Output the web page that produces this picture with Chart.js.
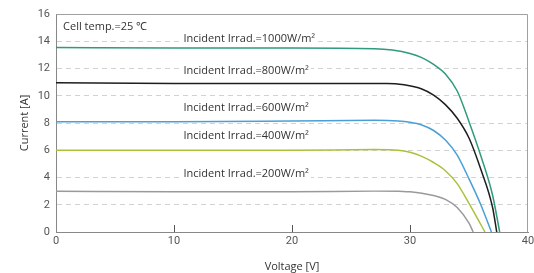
<!DOCTYPE html>
<html lang="en">

<head>
    <meta charset="UTF-8">
    <title>I-V Curves</title>
    <script src="https://cdn.jsdelivr.net/npm/chart.js"></script>
    <style>
        html, body { margin: 0; padding: 0; background: #fff; }
        canvas { display: block; }
    </style>
</head>

<body>
    <canvas id="iv-chart" width="534" height="273"></canvas>

    <script>
        // tick labels
        const voltageTicks = [0, 10, 20, 30, 40];
        const currentTicks = [0, 2, 4, 6, 8, 10, 12, 14, 16];

        // one curve per irradiance level: voltage [V] and current [A]
        const irradLabels = ['1000', '800', '600', '400', '200'];

        const v1000 = [0, 10, 20, 27, 28.5, 30, 31, 32, 33, 34, 35, 36, 37, 37.6];
        const i1000 = [13.55, 13.5, 13.5, 13.45, 13.35, 13.1, 12.8, 12.3, 11.6, 10.35, 8.1, 5.6, 2.7, 0];

        const v800 = [0, 10, 20, 28, 29.5, 31, 32, 33, 34, 35, 36, 37, 37.35];
        const i800 = [10.95, 10.9, 10.9, 10.9, 10.8, 10.5, 10.05, 9.35, 8.35, 6.9, 4.6, 1.8, 0];

        const v600 = [0, 10, 20, 27, 29, 30, 31, 32, 33, 34, 35, 36, 36.9];
        const i600 = [8.1, 8.1, 8.15, 8.2, 8.15, 8.05, 7.85, 7.45, 6.75, 5.65, 3.9, 2.0, 0];

        const v400 = [0, 10, 20, 27, 29, 30, 31, 32, 33, 34, 35, 36, 36.35];
        const i400 = [6.0, 6.0, 6.0, 6.05, 6.0, 5.85, 5.55, 5.1, 4.5, 3.55, 2.1, 0.55, 0];

        const v200 = [0, 10, 20, 27, 29, 30, 31, 32, 33, 34, 35, 35.35];
        const i200 = [3.0, 2.95, 2.95, 3.0, 3.0, 2.95, 2.85, 2.68, 2.4, 1.8, 0.65, 0];

        const curveColors = ['#2f9a7c', '#1e1e1e', '#4aa0d6', '#a9c23c', '#9a9a9a'];

        function pairs(vs, is) {
            return vs.map((v, k) => ({ x: v, y: is[k] }));
        }

        const curves = [
            pairs(v1000, i1000),
            pairs(v800, i800),
            pairs(v600, i600),
            pairs(v400, i400),
            pairs(v200, i200)
        ];

        // annotation anchors in data units (voltage, current)
        const notes = [
            { text: 'Cell temp.=25 \u2103', x: 0.6, y: 15.05 },
            { text: 'Incident Irrad.=1000W/m\u00b2', x: 10.8, y: 14.2 },
            { text: 'Incident Irrad.=800W/m\u00b2', x: 10.8, y: 11.8 },
            { text: 'Incident Irrad.=600W/m\u00b2', x: 10.8, y: 9.1 },
            { text: 'Incident Irrad.=400W/m\u00b2', x: 10.8, y: 7.05 },
            { text: 'Incident Irrad.=200W/m\u00b2', x: 10.8, y: 4.25 }
        ];

        const framePlugin = {
            id: 'frame',
            beforeDatasetsDraw(chart) {
                const c = chart.ctx;
                const xs = chart.scales.x;
                const ys = chart.scales.y;
                c.save();
                c.font = '11px "Open Sans", sans-serif';
                c.textBaseline = 'middle';
                notes.forEach(n => {
                    const px = xs.getPixelForValue(n.x);
                    const py = ys.getPixelForValue(n.y);
                    const w = c.measureText(n.text).width;
                    c.fillStyle = '#fff';
                    c.fillRect(px - 2, py - 7, w + 4, 14);
                    c.fillStyle = '#333';
                    c.fillText(n.text, px, py);
                });
                c.restore();
            },
            afterDraw(chart) {
                const c = chart.ctx;
                const a = chart.chartArea;
                const xs = chart.scales.x;
                c.save();
                c.strokeStyle = '#a0a0a0';
                c.lineWidth = 1;
                c.beginPath();
                c.moveTo(a.left + 0.5, a.top + 0.5);
                c.lineTo(a.right - 0.5, a.top + 0.5);
                c.lineTo(a.right - 0.5, a.bottom);
                c.stroke();
                // small inner ticks on the voltage axis
                c.strokeStyle = '#555';
                voltageTicks.slice(1, -1).forEach(v => {
                    const px = Math.round(xs.getPixelForValue(v)) + 0.5;
                    c.beginPath();
                    c.moveTo(px, a.bottom);
                    c.lineTo(px, a.bottom - 7);
                    c.stroke();
                });
                c.restore();
            }
        };

        new Chart(document.getElementById('iv-chart'), {
            type: 'line',
            data: {
                datasets: curves.map((pts, k) => ({
                    label: irradLabels[k],
                    data: pts,
                    borderColor: curveColors[k],
                    borderWidth: 1.5,
                    pointRadius: 0,
                    fill: false,
                    cubicInterpolationMode: 'monotone'
                }))
            },
            options: {
                responsive: false,
                animation: false,
                maintainAspectRatio: false,
                layout: { padding: { top: 14, right: 6, left: 0, bottom: 0 } },
                plugins: {
                    legend: { display: false },
                    tooltip: { enabled: false }
                },
                scales: {
                    x: {
                        type: 'linear',
                        min: 0,
                        max: 40,
                        afterBuildTicks: s => { s.ticks = voltageTicks.map(v => ({ value: v })); },
                        afterFit: s => {
                            s.height = 41;
                            s.paddingLeft = 0;
                            s.paddingRight = 0;
                        },
                        grid: { display: false, drawTicks: false },
                        border: { display: true, color: '#888', width: 1 },
                        ticks: {
                            padding: 3,
                            color: '#555',
                            font: { family: 'Roboto', size: 11 },
                            maxRotation: 0
                        },
                        title: {
                            display: true,
                            text: 'Voltage [V]',
                            color: '#333',
                            font: { family: 'Open Sans', size: 11 },
                            padding: { top: 0, bottom: 0 }
                        }
                    },
                    y: {
                        type: 'linear',
                        min: 0,
                        max: 16,
                        afterBuildTicks: s => { s.ticks = currentTicks.map(v => ({ value: v })); },
                        afterFit: s => { s.width = 56; },
                        grid: {
                            drawTicks: false,
                            color: ctx => (ctx.tick && (ctx.tick.value === 0 || ctx.tick.value === 16)) ? 'rgba(0,0,0,0)' : '#d2d2d2',
                            lineWidth: 1
                        },
                        border: { display: true, color: '#888', width: 1, dash: [5, 4] },
                        ticks: {
                            padding: 6,
                            color: '#555',
                            font: { family: 'Roboto', size: 11 }
                        },
                        title: {
                            display: true,
                            text: 'Current [A]',
                            color: '#333',
                            font: { family: 'Open Sans', size: 11 },
                            padding: { top: 18, bottom: 0 }
                        }
                    }
                }
            },
            plugins: [framePlugin]
        });
    </script>
</body>

</html>
